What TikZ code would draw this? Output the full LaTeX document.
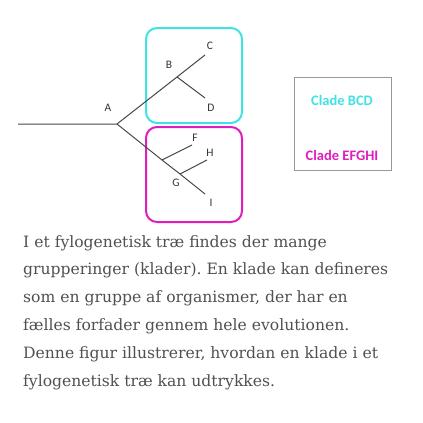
\documentclass[tikz,border=0pt]{standalone}
\usepackage{fontspec}
\setmainfont{DejaVu Serif}
\newfontfamily\cladefont{Carlito}
\frenchspacing

\definecolor{cladecyan}{RGB}{64,226,230}
\definecolor{clademag}{RGB}{222,30,190}
\definecolor{treegray}{RGB}{70,70,70}
\definecolor{textgray}{RGB}{80,80,80}

\begin{document}
\begin{tikzpicture}[x=1pt,y=-1pt,
    branch/.style={draw=treegray,line width=1pt},
    leaf/.style={font=\cladefont\fontsize{11.5}{11.5}\selectfont,text=black!80,inner sep=0pt},
    cladebox/.style={line width=2pt,rounded corners=11pt},
    legend/.style={font=\cladefont\bfseries\fontsize{14.5}{14.5}\selectfont,inner sep=0pt},
    para/.style={font=\fontsize{15.6}{15.6}\selectfont,text=textgray,anchor=base west,inner sep=0pt}]
    \useasboundingbox (0,0) rectangle (423,423);

    % clade boxes
    \draw[cladebox,draw=cladecyan] (146,28) rectangle (242,123);
    \draw[cladebox,draw=clademag] (146,127) rectangle (242,222);

    % tree
    \coordinate (root) at (18,124);
    \coordinate (a) at (117,124);
    \coordinate (b) at (177,77);
    \coordinate (c) at (205,55);
    \coordinate (d) at (205,98);
    \coordinate (f) at (162,160);
    \coordinate (g) at (180,174);
    \coordinate (ftip) at (192,145);
    \coordinate (h) at (207,160);
    \coordinate (i) at (205,194);
    \draw[branch] (root) -- (a) -- (b) -- (c);
    \draw[branch] (b) -- (d);
    \draw[branch] (a) -- (f) -- (g) -- (i);
    \draw[branch] (f) -- (ftip);
    \draw[branch] (g) -- (h);

    \node[leaf] (alab) at (108,108) {A};
    \node[leaf] (blab) at (169,65) {B};
    \node[leaf] (clab) at (210,46) {C};
    \node[leaf] (dlab) at (211,108) {D};
    \node[leaf] (flab) at (195,138) {F};
    \node[leaf] (hlab) at (210,153) {H};
    \node[leaf] (glab) at (176,183) {G};
    \node[leaf] (ilab) at (211,203) {I};

    % legend
    \draw[draw=gray!80,line width=0.8pt] (294,77) rectangle (391,170);
    \node[legend,text=cladecyan] (bcd) at (342,100) {Clade BCD};
    \node[legend,text=clademag] (efghi) at (342,155) {Clade EFGHI};

    % caption
    \foreach \txt [count=\i] in {I et fylogenetisk træ findes der mange,
        grupperinger (klader). En klade kan defineres,
        {som en gruppe af organismer, der har en},
        fælles forfader gennem hele evolutionen.,
        {Denne figur illustrerer, hvordan en klade i et},
        fylogenetisk træ kan udtrykkes.}
        \node[para] (line\i) at (23,247+27.8*\i-27.8) {\txt};
\end{tikzpicture}
\end{document}
